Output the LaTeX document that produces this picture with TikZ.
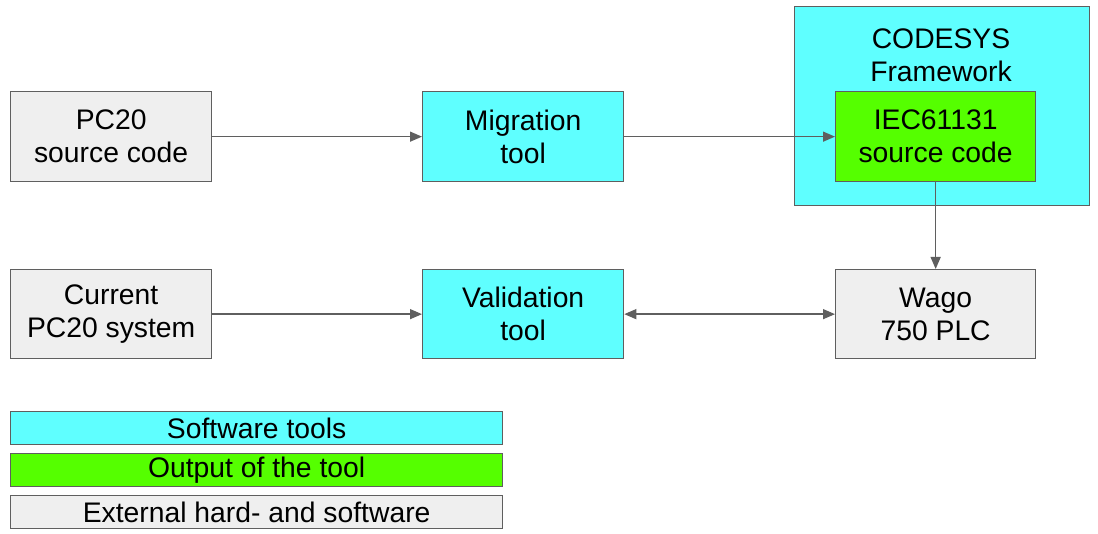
\documentclass[tikz,border=0pt]{standalone}
\usepackage{fontspec}
\setmainfont{Liberation Sans}
\usetikzlibrary{arrows.meta}
\definecolor{swcyan}{HTML}{5FFFFF}
\definecolor{outgreen}{HTML}{55FF00}
\definecolor{extgrey}{HTML}{EFEFEF}
\definecolor{edgegrey}{HTML}{5F5F5F}
\begin{document}
\begin{tikzpicture}[x=1pt,y=-1pt,
  box/.style={draw=edgegrey,line width=1.3pt,inner sep=0pt,anchor=north west,align=center,
    font=\fontsize{28.3}{33}\selectfont},
  sw/.style={box,fill=swcyan},
  outp/.style={box,fill=outgreen},
  ext/.style={box,fill=extgrey},
  conn/.style={draw=edgegrey,line width=1.3pt,-{Triangle[length=12pt,width=10pt]}},
  biconn/.style={draw=edgegrey,line width=1.3pt,{Triangle[length=12pt,width=10pt]}-{Triangle[length=12pt,width=10pt]}}
]
\useasboundingbox (0,0) rectangle (1098,534);
% CODESYS framework container
\node[sw,minimum width=295pt,minimum height=199pt] (codesys) at (794,6) {};
\node[font=\fontsize{28.3}{33}\selectfont,align=center] (codesyslbl) at (941,55) {CODESYS\\Framework};
% top row
\node[ext,minimum width=201pt,minimum height=90pt] (pc20) at (10,91) {PC20\\source code};
\node[sw,minimum width=201pt,minimum height=90pt] (mig) at (422,91) {Migration\\tool};
\node[outp,minimum width=200pt,minimum height=90pt] (iec) at (835,91) {IEC61131\\source code};
% bottom row
\node[ext,minimum width=201pt,minimum height=89pt] (cur) at (10,269) {Current\\PC20 system};
\node[sw,minimum width=201pt,minimum height=89pt] (val) at (422,269) {Validation\\tool};
\node[ext,minimum width=200pt,minimum height=89pt] (wago) at (835,269) {Wago\\750 PLC};
% legend
\node[sw,minimum width=492pt,minimum height=33pt] (lsw) at (10,411) {Software tools};
\node[outp,minimum width=492pt,minimum height=33pt] (lout) at (10,453) {Output of the tool};
\node[ext,minimum width=492pt,minimum height=33pt] (lext) at (10,495) {External hard- and software};
% connectors
\draw[conn] (pc20.east) -- (mig.west);
\draw[conn] (mig.east) -- (iec.west);
\draw[conn] (iec.south) -- (wago.north);
\draw[conn] (cur.east) -- (val.west);
\draw[biconn] (val.east) -- (wago.west);
\end{tikzpicture}
\end{document}
